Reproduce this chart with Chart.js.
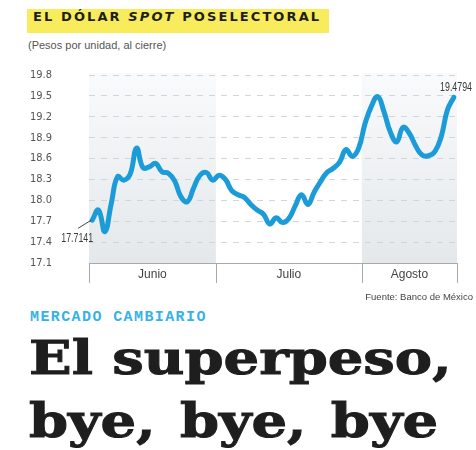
<!DOCTYPE html>
<html>
<head>
<meta charset="utf-8">
<script src="https://cdn.jsdelivr.net/npm/chart.js@4"></script>
<style>
  body { margin: 0; width: 476px; height: 450px; background: #fff; position: relative; overflow: hidden; font-family: "DejaVu Sans", sans-serif; }
  #titulo { position: absolute; left: 27px; top: 9px; height: 24px; line-height: 24px; padding: 0 8px 0 6px; background: #f8ec5c;
            font: bold 13px "DejaVu Sans", sans-serif; letter-spacing: 2.1px; color: #1e1e1e; }
  #sub { position: absolute; left: 28px; top: 39px; font: 11px "Liberation Sans", sans-serif; color: #555; }
  #wrap { position: absolute; left: 0; top: 55px; width: 476px; height: 245px; }
  #fuente { position: absolute; right: 3px; top: 291px; font: 9.5px "Liberation Sans", sans-serif; color: #444; }
  #seccion { position: absolute; left: 30px; top: 309px; font: bold 15px "Liberation Mono", monospace; color: #35b3e8; letter-spacing: 1.4px; }
  #cabeza { position: absolute; left: 29px; top: 326px; font: bold 47px/63px "DejaVu Serif", serif; color: #1e1e1e; white-space: nowrap;
            transform: scaleX(1.19); transform-origin: left top; -webkit-text-stroke: 1px #1e1e1e; }
  #cabeza span { word-spacing: 4px; }
</style>
</head>
<body>
<div id="titulo">EL DÓLAR <i>SPOT</i> POSELECTORAL</div>
<div id="sub">(Pesos por unidad, al cierre)</div>
<div id="wrap"><canvas id="grafica"></canvas></div>
<div id="fuente">Fuente: Banco de México</div>
<div id="seccion">MERCADO CAMBIARIO</div>
<div id="cabeza">El superpeso,<br><span>bye, bye, bye</span></div>
<script>
// trading days, 3 Jun - 21 Aug 2024
const dias = [
  '03/06','04/06','05/06','06/06','07/06','10/06','11/06','12/06','13/06','14/06',
  '17/06','18/06','19/06','20/06','21/06','24/06','25/06','26/06','27/06','28/06',
  '01/07','02/07','03/07','04/07','05/07','08/07','09/07','10/07','11/07','12/07',
  '15/07','16/07','17/07','18/07','19/07','22/07','23/07','24/07','25/07','26/07',
  '29/07','30/07','31/07',
  '01/08','02/08','05/08','06/08','07/08','08/08','09/08','12/08','13/08','14/08',
  '15/08','16/08','19/08','20/08','21/08'
];
const tipoCambio = [
  17.7141, 17.86, 17.55, 17.95, 18.34, 18.29, 18.38, 18.75, 18.47, 18.48,
  18.53, 18.41, 18.39, 18.28, 18.05, 17.98, 18.18, 18.36, 18.40, 18.29,
  18.36, 18.30, 18.14, 18.08, 18.04, 17.94, 17.86, 17.80, 17.66, 17.75,
  17.68, 17.74, 17.92, 18.08, 17.94, 18.12, 18.27, 18.40, 18.46, 18.55,
  18.73, 18.63, 18.75,
  19.10, 19.35, 19.49, 19.27, 18.98, 18.84, 19.05, 18.96, 18.78, 18.65,
  18.64, 18.70, 18.91, 19.30, 19.4794
];
const meses = ['Junio', 'Julio', 'Agosto'];
const mesDeDia = dias.map(d => Number(d.slice(3)) - 6); // 0 junio, 1 julio, 2 agosto
const yTicks = [17.1, 17.4, 17.7, 18.0, 18.3, 18.6, 18.9, 19.2, 19.5, 19.8];

const narrow = '"Liberation Sans Narrow", "DejaVu Sans Condensed", "Roboto", sans-serif';

// left/right pixel edges of one month on the x scale
function bordesMes(x, k) {
  const half = (x.getPixelForValue(1) - x.getPixelForValue(0)) / 2;
  const idx = mesDeDia.map((v, i) => v === k ? i : -1).filter(i => i >= 0);
  return [x.getPixelForValue(idx[0]) - half, x.getPixelForValue(idx[idx.length - 1]) + half];
}

// condensed text, the print font is narrow
function textoAngosto(ctx, txt, px, py, align) {
  ctx.save();
  ctx.translate(px, py);
  ctx.scale(0.68, 1);
  ctx.textAlign = align;
  ctx.fillText(txt, 0, 0);
  ctx.restore();
}

// shaded month bands + month boxes under the axis + end labels
const mesesPlugin = {
  id: 'meses',
  beforeDraw(chart) {
    const { ctx, chartArea, scales: { x } } = chart;
    [0, 2].forEach(k => {
      const [l, r] = bordesMes(x, k);
      const g = ctx.createLinearGradient(0, chartArea.top, 0, chartArea.bottom);
      g.addColorStop(0, '#f9fafb');
      g.addColorStop(1, '#e4e8eb');
      ctx.fillStyle = g;
      ctx.fillRect(l, chartArea.top - 2, r - l, chartArea.bottom - chartArea.top + 2);
    });
  },
  afterDraw(chart) {
    const { ctx, chartArea, scales: { x, y } } = chart;
    ctx.save();
    ctx.strokeStyle = '#a9a9a9';
    ctx.lineWidth = 1;
    ctx.fillStyle = '#444';
    ctx.font = '12px "Liberation Sans", sans-serif';
    ctx.textAlign = 'center';
    ctx.textBaseline = 'middle';
    ctx.beginPath();
    meses.forEach((m, k) => {
      const [l, r] = bordesMes(x, k);
      ctx.fillText(m, (l + r) / 2, chartArea.bottom + 12);
      [l, r].forEach(b => {
        const px = Math.round(b) + 0.5;
        ctx.moveTo(px, chartArea.bottom);
        ctx.lineTo(px, chartArea.bottom + 20);
      });
    });
    ctx.stroke();

    // first and last value labels
    const n = tipoCambio.length - 1;
    const x0 = x.getPixelForValue(0), y0 = y.getPixelForValue(tipoCambio[0]);
    ctx.strokeStyle = '#444';
    ctx.beginPath();
    ctx.moveTo(x0 - 1, y0);
    ctx.lineTo(x0 - 14, y0 + 8);
    ctx.stroke();
    ctx.font = '13px "Liberation Sans", sans-serif';
    ctx.fillStyle = '#3a3a3a';
    textoAngosto(ctx, tipoCambio[0].toFixed(4), x0 + 1, y0 + 18, 'right');
    textoAngosto(ctx, tipoCambio[n].toFixed(4), chart.width - 4, y.getPixelForValue(tipoCambio[n]) - 10, 'right');
    ctx.restore();
  }
};

new Chart(document.getElementById('grafica'), {
  type: 'line',
  data: {
    labels: dias,
    datasets: [{
      data: tipoCambio,
      borderColor: '#1b9bd8',
      borderWidth: 5,
      pointRadius: 0,
      tension: 0.45,
      borderCapStyle: 'round',
      borderJoinStyle: 'round'
    }]
  },
  options: {
    responsive: true,
    maintainAspectRatio: false,
    animation: false,
    layout: { padding: { top: 20, right: 19, bottom: 17, left: 0 } },
    plugins: { legend: { display: false }, tooltip: { enabled: false } },
    scales: {
      x: {
        offset: true,
        ticks: { display: false },
        grid: { display: false },
        border: { display: true, color: '#a9a9a9' },
        afterFit(scale) { scale.height = 20; }
      },
      y: {
        min: 17.1,
        max: 19.8,
        afterBuildTicks(scale) { scale.ticks = yTicks.map(v => ({ value: v })); },
        ticks: {
          padding: 3,
          color: '#555',
          font: { family: narrow, size: 11 },
          callback: v => v.toFixed(1)
        },
        grid: { color: '#cfd6dc', drawTicks: true, tickLength: 34, tickColor: 'rgba(0,0,0,0)' },
        border: { display: false, dash: [6, 6] },
        afterFit(scale) { scale.width = 89; }
      }
    }
  },
  plugins: [mesesPlugin]
});
</script>
</body>
</html>
